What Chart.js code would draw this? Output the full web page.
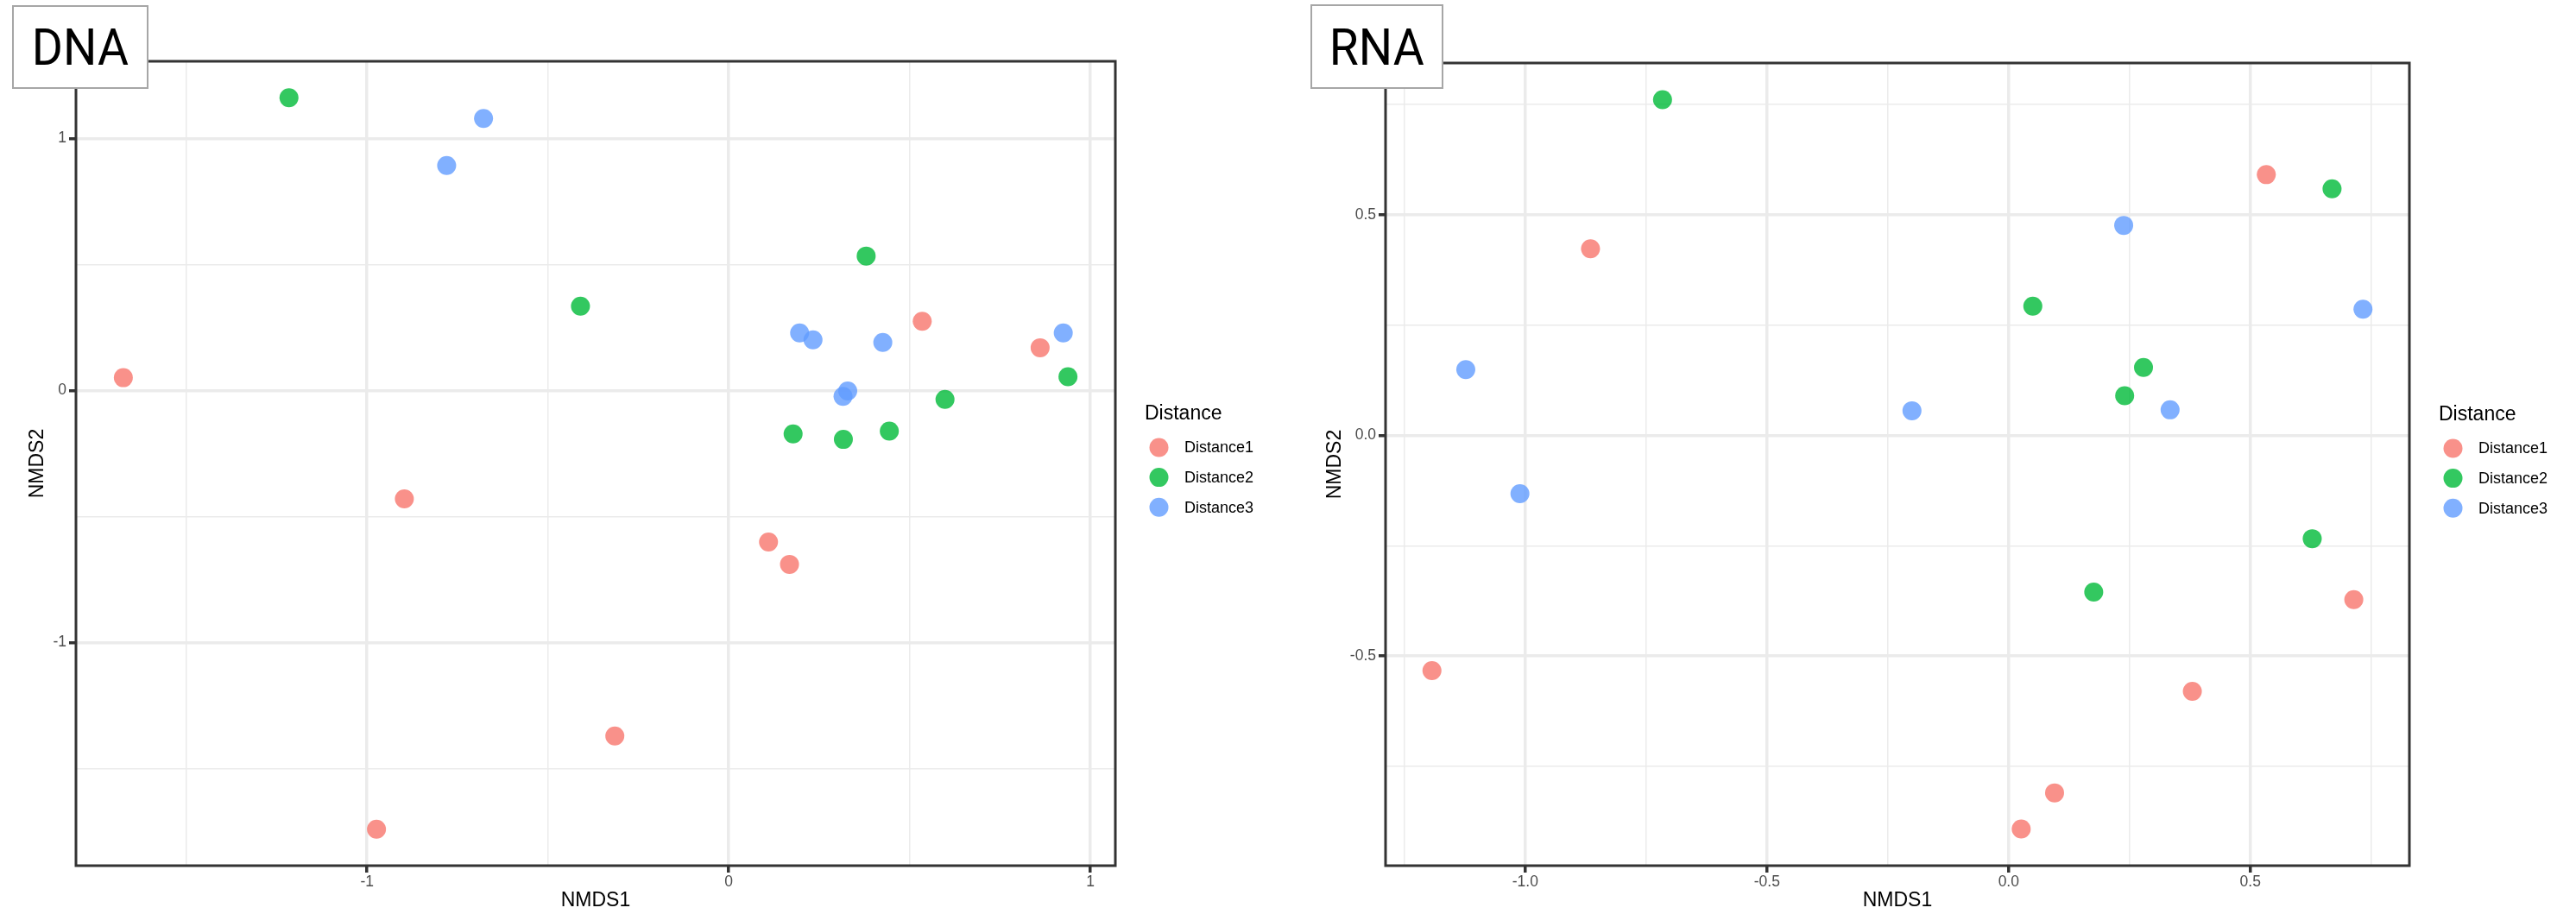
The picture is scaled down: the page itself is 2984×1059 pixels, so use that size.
<!DOCTYPE html>
<html><head><meta charset="utf-8">
<script src="https://cdn.jsdelivr.net/npm/chart.js@4.4.1/dist/chart.umd.min.js"></script>
<style>
html,body{margin:0;padding:0;background:#fff;}
body{width:2984px;height:1059px;position:relative;overflow:hidden;}
canvas{position:absolute;top:0;}
#c1{left:0;} #c2{left:1492px;}
.tag{position:absolute;background:#fff;border:2px solid #a6a6a6;box-sizing:border-box;display:flex;align-items:center;justify-content:center;font-family:Roboto,'Liberation Sans',sans-serif;font-size:60px;color:#000;z-index:5;}
.tag span{display:inline-block;transform:scaleX(0.92);}
</style></head>
<body>
<canvas id="c1" width="1492" height="1059"></canvas>
<canvas id="c2" width="1492" height="1059"></canvas>
<div class="tag" style="left:14px;top:6px;width:158px;height:97px;"><span>DNA</span></div>
<div class="tag" style="left:1518px;top:5px;width:154px;height:98px;"><span>RNA</span></div>
<script>
// ---------- data ----------
const seriesNames = ['Distance1', 'Distance2', 'Distance3'];
const seriesColors = ['rgba(248,118,109,0.8)', 'rgba(0,186,56,0.8)', 'rgba(97,156,255,0.8)'];
const legendTitle = 'Distance';
const xTitle = 'NMDS1';
const yTitle = 'NMDS2';

// DNA panel
const dnaD1x = [-1.674, -0.897, -0.974, -0.315, 0.535, 0.861, 0.110, 0.168];
const dnaD1y = [0.051, -0.430, -1.741, -1.371, 0.275, 0.170, -0.601, -0.690];
const dnaD2x = [-1.216, -0.410, 0.380, 0.938, 0.598, 0.178, 0.317, 0.444];
const dnaD2y = [1.162, 0.335, 0.534, 0.055, -0.035, -0.172, -0.194, -0.161];
const dnaD3x = [-0.678, -0.780, 0.196, 0.233, 0.426, 0.925, 0.329, 0.316];
const dnaD3y = [1.080, 0.893, 0.229, 0.201, 0.191, 0.229, -0.002, -0.023];
const dnaXRange = [-1.805, 1.069];
const dnaYRange = [-1.886, 1.307];
const dnaXMajor = [-1, 0, 1];
const dnaXMinor = [-1.5, -0.5, 0.5];
const dnaXLabels = ['-1', '0', '1'];
const dnaYMajor = [-1, 0, 1];
const dnaYMinor = [-1.5, -0.5, 0.5];
const dnaYLabels = ['-1', '0', '1'];

// RNA panel
const rnaD1x = [-0.865, -1.193, 0.533, 0.714, 0.380, 0.095, 0.026];
const rnaD1y = [0.423, -0.533, 0.591, -0.372, -0.580, -0.810, -0.892];
const rnaD2x = [-0.716, 0.669, 0.050, 0.279, 0.240, 0.628, 0.176];
const rnaD2y = [0.761, 0.559, 0.293, 0.154, 0.090, -0.234, -0.355];
const rnaD3x = [-1.123, -1.011, 0.238, 0.733, -0.200, 0.334];
const rnaD3y = [0.149, -0.132, 0.476, 0.286, 0.056, 0.058];
const rnaXRange = [-1.289, 0.829];
const rnaYRange = [-0.975, 0.844];
const rnaXMajor = [-1, -0.5, 0, 0.5];
const rnaXMinor = [-1.25, -0.75, -0.25, 0.25, 0.75];
const rnaXLabels = ['-1.0', '-0.5', '0.0', '0.5'];
const rnaYMajor = [-0.5, 0, 0.5];
const rnaYMinor = [-0.75, -0.25, 0.25, 0.75];
const rnaYLabels = ['-0.5', '0.0', '0.5'];

// ---------- helpers ----------
const FONT = "'Liberation Sans', Arial, sans-serif";
const zip = (xs, ys) => xs.map((x, i) => ({x: x, y: ys[i]}));

function makeDatasets(groups) {
  return groups.map((g, i) => ({
    label: seriesNames[i],
    data: zip(g[0], g[1]),
    backgroundColor: seriesColors[i],
    borderColor: seriesColors[i],
    pointRadius: 11,
    pointHoverRadius: 11,
    pointBorderWidth: 0,
    borderWidth: 0
  }));
}

function makeScale(axis, range, major, minor, labels, title, fitSize, titlePad) {
  const all = major.concat(minor).sort((a, b) => a - b);
  const isMajor = v => major.some(m => Math.abs(m - v) < 1e-9);
  return {
    type: 'linear',
    position: axis === 'x' ? 'bottom' : 'left',
    min: range[0], max: range[1],
    afterBuildTicks: s => { s.ticks = all.map(v => ({value: v})); },
    afterFit: s => { if (axis === 'x') s.height = fitSize; else s.width = fitSize; },
    ticks: {
      autoSkip: false, maxRotation: 0, minRotation: 0,
      padding: axis === 'x' ? 1 : 3,
      color: '#4d4d4d',
      font: {family: FONT, size: 17.5},
      callback: v => { const i = major.findIndex(m => Math.abs(m - v) < 1e-9); return i < 0 ? '' : labels[i]; }
    },
    grid: {
      color: '#ebebeb',
      lineWidth: c => (c.tick && isMajor(c.tick.value)) ? 3.5 : 1.5,
      tickColor: c => (c.tick && isMajor(c.tick.value)) ? '#333333' : 'rgba(0,0,0,0)',
      tickWidth: 3.5,
      tickLength: 8,
      drawTicks: true
    },
    border: {display: false},
    title: {
      display: true, text: title, color: '#000',
      font: {family: FONT, size: 23},
      padding: axis === 'x' ? {top: 0, bottom: 2} : {top: titlePad, bottom: 0}
    }
  };
}

const framePlugin = {
  id: 'frame',
  afterDatasetsDraw(chart) {
    const {ctx, chartArea: a} = chart;
    ctx.save();
    ctx.strokeStyle = '#333333';
    ctx.lineWidth = 3;
    ctx.strokeRect(a.left, a.top, a.right - a.left, a.bottom - a.top);
    ctx.restore();
  }
};

const legendPlugin = {
  id: 'sideLegend',
  afterDraw(chart) {
    const {ctx, chartArea: a} = chart;
    const cy = (a.top + a.bottom) / 2;
    ctx.save();
    ctx.textBaseline = 'middle';
    ctx.textAlign = 'left';
    ctx.fillStyle = '#000';
    ctx.font = '23px ' + FONT;
    ctx.fillText(legendTitle, a.right + 34, cy - 57);
    chart.data.datasets.forEach((ds, i) => {
      const y = cy - 18.5 + i * 34.6;
      ctx.fillStyle = ds.backgroundColor;
      ctx.beginPath();
      ctx.arc(a.right + 50.5, y, 11, 0, Math.PI * 2);
      ctx.fill();
      ctx.fillStyle = '#000';
      ctx.font = '18px ' + FONT;
      ctx.fillText(ds.label, a.right + 80, y + 1);
    });
    ctx.restore();
  }
};

function makeChart(id, datasets, xs, ys, pad) {
  return new Chart(document.getElementById(id), {
    type: 'scatter',
    data: {datasets: datasets},
    options: {
      responsive: false,
      animation: false,
      layout: {padding: pad},
      plugins: {legend: {display: false}, tooltip: {enabled: false}},
      scales: {x: xs, y: ys}
    },
    plugins: [framePlugin, legendPlugin]
  });
}

makeChart('c1',
  makeDatasets([[dnaD1x, dnaD1y], [dnaD2x, dnaD2y], [dnaD3x, dnaD3y]]),
  makeScale('x', dnaXRange, dnaXMajor, dnaXMinor, dnaXLabels, xTitle, 56, 0),
  makeScale('y', dnaYRange, dnaYMajor, dnaYMinor, dnaYLabels, yTitle, 88, 30),
  {left: 0, top: 71, right: 200, bottom: 0});

makeChart('c2',
  makeDatasets([[rnaD1x, rnaD1y], [rnaD2x, rnaD2y], [rnaD3x, rnaD3y]]),
  makeScale('x', rnaXRange, rnaXMajor, rnaXMinor, rnaXLabels, xTitle, 56, 0),
  makeScale('y', rnaYRange, rnaYMajor, rnaYMinor, rnaYLabels, yTitle, 113, 40.5),
  {left: 0, top: 73, right: 193, bottom: 0});
</script>
</body></html>
